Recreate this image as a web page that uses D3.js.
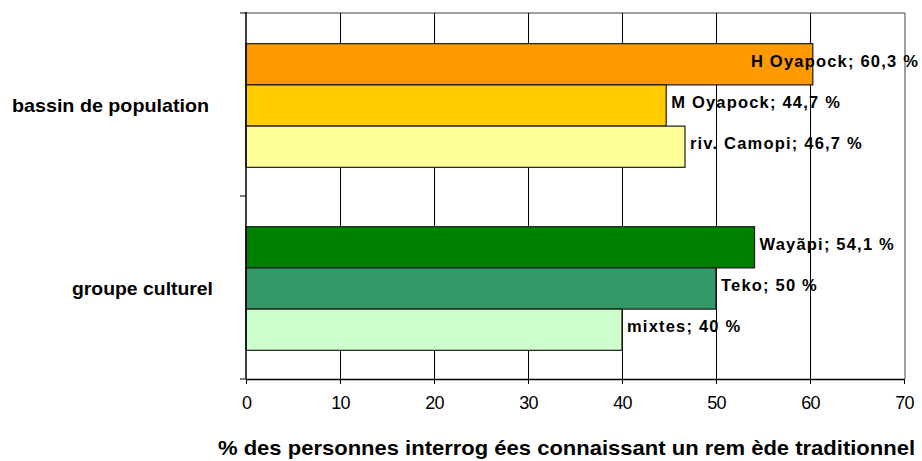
<!DOCTYPE html>
<html>
<head>
<meta charset="utf-8">
<script src="https://cdn.jsdelivr.net/npm/d3@7"></script>
<style>
  html, body { margin: 0; padding: 0; background: #fff; }
  svg { display: block; font-family: "Liberation Sans", Arial, sans-serif; }
</style>
</head>
<body>
<svg id="chart" width="922" height="461"></svg>
<script>
// Groups shown on the vertical axis
const groups = ["bassin de population", "groupe culturel"];
// Bar names inside each group (top to bottom)
const barNames = [
  ["H Oyapock", "M Oyapock", "riv. Camopi"],
  ["Wayãpi", "Teko", "mixtes"]
];
// Percentages for each bar
const barValues = [
  [60.3, 44.7, 46.7],
  [54.1, 50, 40]
];
// Fill colours for each bar
const barColors = [
  ["#FF9900", "#FFCC00", "#FFFF99"],
  ["#008000", "#339966", "#CCFFCC"]
];
// Horizontal axis ticks
const xTicks = [0, 10, 20, 30, 40, 50, 60, 70];
const xTitle = "% des personnes interrog ées connaissant un rem ède traditionnel";

const svg = d3.select("#chart");
const plotLeft = 246, plotRight = 904, plotTop = 13, plotBottom = 379;

const x = d3.scaleLinear().domain([0, 70]).range([plotLeft, plotRight]);
const y = d3.scaleBand().domain(groups).range([plotTop, plotBottom]).padding(0);
const inner = d3.scaleBand().domain([0, 1, 2]).range([0, y.bandwidth()])
  .paddingInner(0).paddingOuter(0.72);

// Plot frame: grey top and right edges
svg.append("line").attr("x1", plotLeft).attr("x2", plotRight + 1).attr("y1", plotTop).attr("y2", plotTop)
  .attr("stroke", "#808080").attr("stroke-width", 1.5);
svg.append("line").attr("x1", plotRight + 1).attr("x2", plotRight + 1).attr("y1", plotTop).attr("y2", plotBottom)
  .attr("stroke", "#808080").attr("stroke-width", 1.5);

// Vertical gridlines
svg.append("g").selectAll("line").data(xTicks.filter(t => t > 0 && t < 70)).join("line")
  .attr("x1", d => x(d) + 0.5).attr("x2", d => x(d) + 0.5)
  .attr("y1", plotTop).attr("y2", plotBottom)
  .attr("stroke", "#000").attr("stroke-width", 1);

// Bars
const rows = [];
groups.forEach((g, gi) => barNames[gi].forEach((n, i) => rows.push({
  group: g, idx: i, name: n, value: barValues[gi][i], color: barColors[gi][i]
})));

svg.append("g").selectAll("rect").data(rows).join("rect")
  .attr("x", x(0))
  .attr("y", d => y(d.group) + inner(d.idx) + 1)
  .attr("width", d => x(d.value) - x(0))
  .attr("height", inner.bandwidth())
  .attr("fill", d => d.color)
  .attr("stroke", "#1a1a1a").attr("stroke-width", 1.2);

// X axis
const xAxis = svg.append("g").attr("transform", `translate(0,${plotBottom})`)
  .call(d3.axisBottom(x).tickValues(xTicks).tickSize(5).tickPadding(12).tickSizeOuter(0));
xAxis.select(".domain").attr("stroke", "#000").attr("stroke-width", 1.3);
xAxis.selectAll(".tick line").attr("stroke", "#000");
xAxis.selectAll("text").attr("font-size", 18).attr("fill", "#000")
  .attr("letter-spacing", -0.8)
  .attr("font-family", "'Liberation Sans', Arial, sans-serif");

// Y axis (line with group boundary ticks)
svg.append("line").attr("x1", plotLeft).attr("x2", plotLeft).attr("y1", plotTop - 1).attr("y2", plotBottom)
  .attr("stroke", "#000").attr("stroke-width", 1.5);
svg.append("g").selectAll("line").data([plotTop, y(groups[1]), plotBottom]).join("line")
  .attr("x1", plotLeft - 6).attr("x2", plotLeft).attr("y1", d => d).attr("y2", d => d)
  .attr("stroke", "#000").attr("stroke-width", 1);

// Group labels
const groupWidths = [197, 141];
svg.append("g").selectAll("text").data(groups).join("text")
  .attr("x", (d, i) => (i === 0 ? 209 : 213) - groupWidths[i])
  .attr("y", d => y(d) + y.bandwidth() / 2 + 1)
  .attr("dy", "0.35em")
  .attr("font-size", 19).attr("font-weight", "bold")
  .attr("textLength", (d, i) => groupWidths[i])
  .attr("lengthAdjust", "spacingAndGlyphs")
  .attr("fill", "#000")
  .text(d => d);

// Value labels beside each bar, kept inside the drawing width
const labels = svg.append("g").selectAll("text").data(rows).join("text")
  .attr("y", d => y(d.group) + inner(d.idx) + inner.bandwidth() / 2 - 2.5)
  .attr("dy", "0.35em")
  .attr("font-size", 16.5).attr("font-weight", "bold")
  .attr("letter-spacing", 1.2)
  .attr("fill", "#000")
  .text(d => `${d.name}; ${String(d.value).replace(".", ",")} %`);
labels.attr("x", function(d) {
  const w = this.getComputedTextLength();
  return Math.min(x(d.value) + 5, 919 - w);
});

// X axis title
svg.append("text")
  .attr("x", 218).attr("y", 448).attr("dy", "0.35em")
  .attr("font-size", 21).attr("font-weight", "bold")
  .attr("textLength", 697)
  .attr("lengthAdjust", "spacingAndGlyphs")
  .attr("fill", "#000")
  .text(xTitle);
</script>
</body>
</html>
